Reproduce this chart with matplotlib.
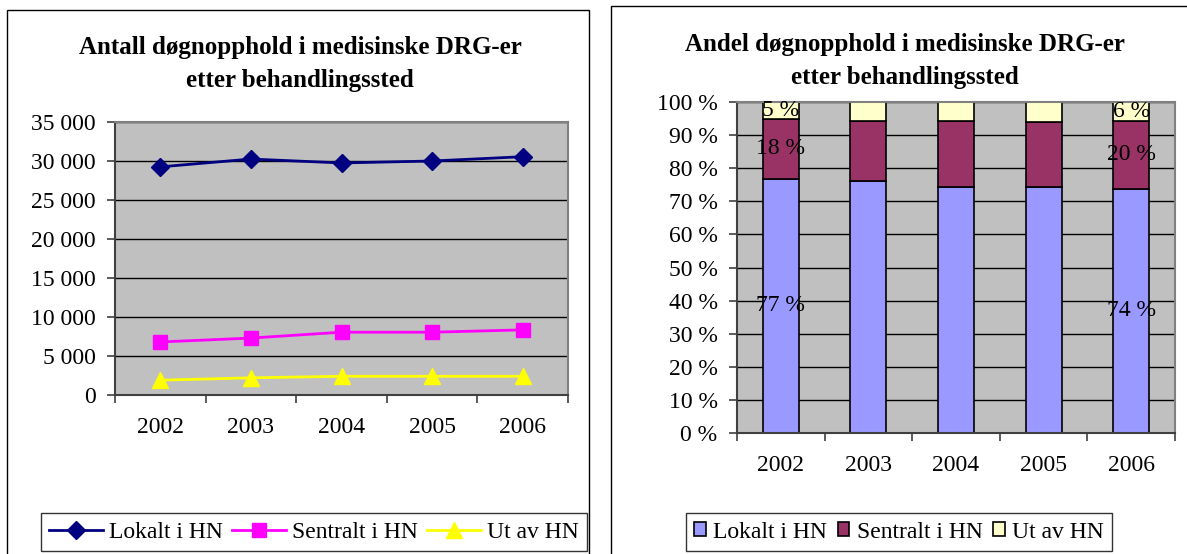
import matplotlib
matplotlib.use("Agg")
import matplotlib.pyplot as plt
from matplotlib.patches import Rectangle
from matplotlib.ticker import FuncFormatter, FixedLocator
import numpy as np

years = ["2002", "2003", "2004", "2005", "2006"]
lokalt_antall = [29250, 30250, 29750, 30000, 30550]
sentralt_antall = [6800, 7300, 8050, 8050, 8350]
ut_antall = [1900, 2200, 2400, 2400, 2400]

lokalt_andel = [76.8, 76.2, 74.4, 74.4, 73.8]
sentralt_andel = [18.2, 18.2, 20.0, 19.5, 20.4]
ut_andel = [5.0, 5.6, 5.6, 6.1, 5.8]

series_names = ["Lokalt i HN", "Sentralt i HN", "Ut av HN"]
title_left = "Antall døgnopphold i medisinske DRG-er\netter behandlingssted"
title_right = "Andel døgnopphold i medisinske DRG-er\netter behandlingssted"

plt.rcParams['font.family'] = ['Liberation Serif', 'DejaVu Serif']

W, H = 1187, 554
fig = plt.figure(figsize=(W / 100, H / 100), dpi=100)
fig.patch.set_facecolor('white')

FS = 17
TFS = 18


def fx(px):
    return px / W


def fy(py):
    return 1 - py / H


# panel borders
fig.add_artist(Rectangle((fx(7), fy(575)), fx(589) - fx(7), fy(10) - fy(575),
                         transform=fig.transFigure, fill=False, edgecolor='black', lw=1.0))
fig.add_artist(Rectangle((fx(611), fy(575)), fx(1200) - fx(611), fy(6) - fy(575),
                         transform=fig.transFigure, fill=False, edgecolor='black', lw=1.0))

grey = '#C0C0C0'
x = np.arange(len(years))


def style_axes(ax):
    ax.set_facecolor(grey)
    ax.set_xlim(-0.5, len(years) - 0.5)
    for s in ['top', 'right']:
        ax.spines[s].set_color('#808080')
        ax.spines[s].set_linewidth(1.5)
    ax.spines['left'].set_color('#404040')
    ax.spines['bottom'].set_color('#404040')
    ax.spines['left'].set_linewidth(1.5)
    ax.spines['bottom'].set_linewidth(1.5)
    ax.set_xticks(x)
    ax.set_xticklabels(years)
    ax.xaxis.set_minor_locator(FixedLocator(np.arange(-0.5, len(years), 1.0)))
    ax.tick_params(axis='x', which='major', length=0, pad=16, labelsize=FS)
    ax.tick_params(axis='x', which='minor', length=6, width=1.2, color='#404040', direction='out')
    ax.tick_params(axis='y', which='major', length=6, width=1.2, color='#404040',
                   direction='out', pad=8, labelsize=FS)
    ax.grid(axis='y', color='black', lw=1.0)
    ax.set_axisbelow(True)


# ---- left chart
axL = fig.add_axes([fx(115), fy(395), fx(568) - fx(115), fy(122) - fy(395)])
style_axes(axL)
axL.set_ylim(0, 35000)
axL.set_yticks(np.arange(0, 35001, 5000))
axL.yaxis.set_major_formatter(FuncFormatter(lambda v, p: f"{int(v):,}".replace(",", " ")))
lh = []
lh += axL.plot(x, lokalt_antall, color='#000080', marker='D', ms=9, lw=2, label=series_names[0], clip_on=False)
lh += axL.plot(x, sentralt_antall, color='#FF00FF', marker='s', ms=10, lw=2, label=series_names[1], clip_on=False)
lh += axL.plot(x, ut_antall, color='#FFFF00', marker='^', ms=11, lw=2, label=series_names[2], clip_on=False)
fig.text(fx(300), fy(64), title_left, ha='center', va='center', fontsize=TFS,
         fontweight='bold', linespacing=1.55)
legL = fig.legend(handles=lh, loc='center', bbox_to_anchor=(fx(314), fy(532)), ncol=3,
                  frameon=True, fancybox=False, edgecolor='black', fontsize=FS,
                  handlelength=2.3, columnspacing=0.38, handletextpad=0.25, borderpad=0.35)
legL.get_frame().set_linewidth(1.0)

# ---- right chart
axR = fig.add_axes([fx(737), fy(433), fx(1175) - fx(737), fy(102) - fy(433)])
style_axes(axR)
axR.set_ylim(0, 100)
axR.set_yticks(np.arange(0, 101, 10))
axR.yaxis.set_major_formatter(FuncFormatter(lambda v, p: f"{int(v)} %"))
bw = 0.41
b1 = axR.bar(x, lokalt_andel, bw, color='#9999FF', edgecolor='black', lw=1.2, label=series_names[0])
b2 = axR.bar(x, sentralt_andel, bw, bottom=lokalt_andel, color='#993366', edgecolor='black', lw=1.2,
             label=series_names[1])
bot3 = np.array(lokalt_andel) + np.array(sentralt_andel)
b3 = axR.bar(x, ut_andel, bw, bottom=bot3, color='#FFFFCC', edgecolor='black', lw=1.2,
             label=series_names[2])
for i in [0, len(years) - 1]:
    vals = [lokalt_andel[i], sentralt_andel[i], ut_andel[i]]
    bots = [0, lokalt_andel[i], bot3[i]]
    for v, b in zip(vals, bots):
        axR.text(x[i], b + v / 2, f"{round(v):d} %", ha='center', va='center', fontsize=FS)
fig.text(fx(905), fy(61), title_right, ha='center', va='center', fontsize=TFS,
         fontweight='bold', linespacing=1.55)
legR = fig.legend(handles=[b1, b2, b3], loc='center', bbox_to_anchor=(fx(899), fy(532)), ncol=3,
                  frameon=True, fancybox=False, edgecolor='black', fontsize=FS,
                  handlelength=0.5, handleheight=0.5, columnspacing=0.45, handletextpad=0.3,
                  borderpad=0.35)
legR.get_frame().set_linewidth(1.0)

fig.savefig("out.png", dpi=100)
